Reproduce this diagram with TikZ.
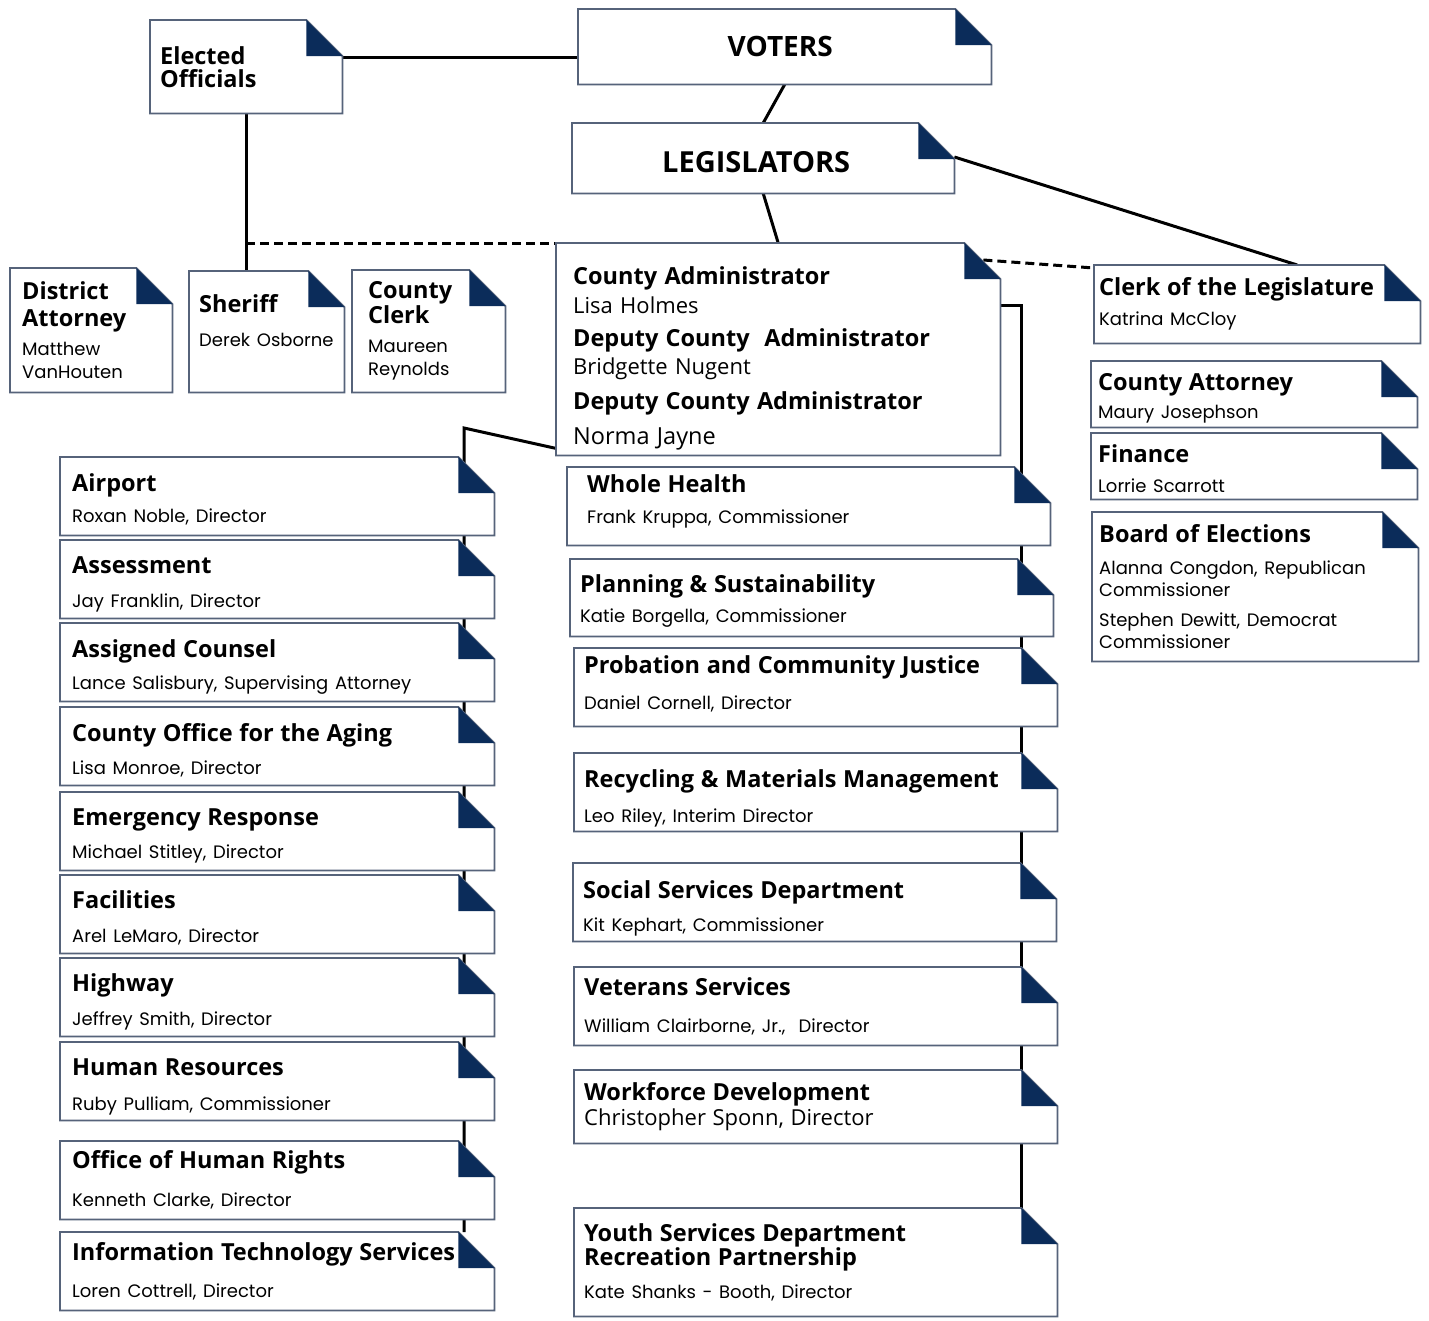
\documentclass[tikz,border=0pt]{standalone}
\usepackage{fontspec}
\setmainfont{Open Sans}
\newfontfamily\namefont{Poppins}
\usetikzlibrary{backgrounds}
\pgfdeclarelayer{cards}
\pgfsetlayers{background,cards,main}
\definecolor{navy}{HTML}{0B2C5A}
\definecolor{frameline}{HTML}{56637A}
\newcommand\hd{\normalfont\bfseries\fontsize{23.5}{24}\selectfont}
\newcommand\nm{\normalfont\namefont\fontsize{18}{22}\selectfont}
\newcommand\rg{\normalfont\fontsize{22}{24}\selectfont}

\begin{document}
\begin{tikzpicture}[x=1pt, y=-1pt]
\tikzset{card/.style={rectangle, anchor=north west, inner ysep=0pt, align=left, font=\fontsize{20}{22}\selectfont},
  lowered/.style={execute at begin node={\rule{0pt}{#1}}},
  leftdept/.style={card, inner xsep=12pt, text width=410pt, minimum width=434pt, minimum height=78pt},
  rightdept/.style={card, inner xsep=10pt, text width=463pt, minimum width=483pt, minimum height=78pt},
  side/.style={card, inner xsep=7pt, text width=312pt, minimum width=326pt},
  link/.style={line width=3pt, black},
  frame/.style={draw=frameline, fill=white, line width=1.8pt},
  fold/.style={fill=navy}}
\useasboundingbox (0,0) rectangle (1429,1320);

% top of the chart
\node[card, inner xsep=10pt, text width=172pt, minimum width=192pt, minimum height=93pt, font=\fontsize{23.5}{23}\selectfont] (elected) at (150,20) {\hd Elected\\Officials};
\node[card, align=center, inner xsep=10pt, text width=393pt, minimum width=413pt, minimum height=75pt] (voters) at (578,9) {\hd\fontsize{28}{30}\selectfont\hspace*{-9pt}VOTERS};
\node[card, lowered=29pt, align=center, inner xsep=10pt, text width=362pt, minimum width=382pt, minimum height=70pt] (legis) at (572,123) {\hd\fontsize{29}{30}\selectfont\hspace*{-14pt}LEGISLATORS};
\node[card, lowered=36pt, inner xsep=17pt, text width=410pt, minimum width=444pt, minimum height=212pt, font=\fontsize{22}{26}\selectfont] (admin) at (556,243) {\hd County Administrator\\[5pt]\rg Lisa Holmes\\[9pt]\hd Deputy County~ Administrator\\[4pt]\rg Bridgette Nugent\\[11pt]\hd Deputy County Administrator\\[9pt]\rg\fontsize{23.5}{26}\selectfont Norma Jayne};

% elected officials
\node[card, inner xsep=12pt, text width=138pt, minimum width=162pt, minimum height=124pt] (da) at (10,268) {\hd District\\[3pt]Attorney\\[7pt]\nm Matthew\\[1pt]VanHouten};
\node[card, inner xsep=10pt, text width=135pt, minimum width=155pt, minimum height=121pt] (sheriff) at (189,271) {\hd Sheriff\\[12pt]\nm Derek Osborne\\\mbox{}};
\node[card, inner xsep=16pt, text width=121pt, minimum width=153pt, minimum height=122pt] (cclerk) at (352,270) {\hd County\\[1pt]Clerk\\[7pt]\nm Maureen\\[1pt]Reynolds};

% reporting to the legislature
\node[side, inner xsep=5pt, text width=316pt, minimum height=78pt] (clerkleg) at (1094,265) {\hd Clerk of the Legislature\\[8pt]\nm Katrina McCloy};
\node[side, lowered=25pt, minimum height=66pt] (cattorney) at (1091,361) {\hd County Attorney\\[6pt]\nm Maury Josephson};
\node[side, lowered=22pt, minimum height=66pt] (finance) at (1091,433) {\hd Finance\\[8pt]\nm Lorrie Scarrott};
\node[side, minimum height=149pt] (elections) at (1092,512) {\hd Board of Elections\\[10pt]\nm Alanna Congdon, Republican\\Commissioner\\[8pt]Stephen Dewitt, Democrat\\Commissioner};

% departments, left
\node[leftdept, lowered=25pt] (airport) at (60,457) {\hd Airport\\[9pt]\nm Roxan Noble, Director};
\node[leftdept, lowered=27pt] (assessment) at (60,540) {\hd Assessment\\[12pt]\nm Jay Franklin, Director};
\node[leftdept, lowered=27pt] (counsel) at (60,623) {\hd Assigned Counsel\\[10pt]\nm Lance Salisbury, Supervising Attorney};
\node[leftdept, lowered=27pt] (aging) at (60,707) {\hd County Office for the Aging\\[11pt]\nm Lisa Monroe, Director};
\node[leftdept, lowered=27pt] (emergency) at (60,792) {\hd Emergency Response\\[11pt]\nm Michael Stitley, Director};
\node[leftdept, lowered=25pt] (facilities) at (60,875) {\hd Facilities\\[12pt]\nm Arel LeMaro, Director};
\node[leftdept, lowered=27pt] (highway) at (60,958) {\hd Highway\\[12pt]\nm Jeffrey Smith, Director};
\node[leftdept, lowered=29pt] (hr) at (60,1042) {\hd Human Resources\\[13pt]\nm Ruby Pulliam, Commissioner};
\node[leftdept] (rights) at (60,1141) {\hd Office of Human Rights\\[16pt]\nm Kenneth Clarke, Director};
\node[leftdept] (its) at (60,1232) {\hd Information Technology Services\\[15pt]\nm Loren Cottrell, Director};

% departments, right
\node[rightdept, inner xsep=19pt, text width=443pt] (health) at (567,467) {\hd Whole Health\\[9pt]\nm Frank Kruppa, Commissioner\\[-8pt]\mbox{}};
\node[rightdept, lowered=25pt, minimum height=77pt] (planning) at (570,559) {\hd Planning \& Sustainability\\[8pt]\nm Katie Borgella, Commissioner};
\node[rightdept] (probation) at (574,648) {\hd Probation and Community Justice\\[14pt]\nm Daniel Cornell, Director\\[-13pt]\mbox{}};
\node[rightdept, lowered=30pt] (recycling) at (574,753) {\hd Recycling \& Materials Management\\[13pt]\nm Leo Riley, Interim Director};
\node[rightdept, lowered=30pt] (social) at (573,863) {\hd Social Services Department\\[11pt]\nm Kit Kephart, Commissioner};
\node[rightdept] (veterans) at (574,967) {\hd Veterans Services\\[15pt]\nm William Clairborne, Jr.,~ Director};
\node[rightdept, minimum height=73pt, font=\fontsize{20}{24}\selectfont] (workforce) at (574,1070) {\hd Workforce Development\\[1pt]\rg Christopher Sponn, Director};
\node[rightdept, minimum height=108pt, font=\fontsize{20}{24}\selectfont] (youth) at (574,1208) {\hd Youth Services Department\\Recreation Partnership\\[9pt]\nm Kate Shanks - Booth, Director};

% folded corners
\begin{pgfonlayer}{cards}
\foreach \n in {elected, voters, legis, admin, da, sheriff, cclerk, clerkleg, cattorney, finance, elections,
  airport, assessment, counsel, aging, emergency, facilities, highway, hr, rights, its,
  health, planning, probation, recycling, social, veterans, workforce, youth} {
  \draw[frame] (\n.south west) -- (\n.north west) -- ([xshift=-36pt]\n.north east) -- ([yshift=-36pt]\n.north east) -- (\n.south east) -- cycle;
  \fill[fold] ([xshift=-36pt]\n.north east) -- ([yshift=-36pt]\n.north east) -- ([xshift=-36pt,yshift=-36pt]\n.north east) -- cycle;
}
\end{pgfonlayer}

% connectors
\coordinate (eo) at ([yshift=-37pt]elected.north east);
\coordinate (lbend) at (464,428);
\coordinate (rbend) at (1021,305);
\begin{pgfonlayer}{background}
\draw[link] (eo) -- (eo -| voters.west);
\draw[link] (voters.south) -- (legis.north);
\draw[link] (legis.south) -- (admin.north);
\draw[link] ([yshift=-34pt]legis.north east) -- ([xshift=40pt]clerkleg.north);
\draw[link] (elected.south) -- (elected.south |- sheriff.north);
\draw[link, dash pattern=on 9pt off 5pt] (elected.south |- admin.north west) -- (admin.north west);
\draw[link, dash pattern=on 9pt off 5pt] ([shift={(-17pt,-17pt)}]admin.north east) -- ([yshift=-3pt]clerkleg.north west);
\draw[link] ([yshift=7pt]admin.south west) -- (lbend) -- (lbend |- its.north);
\draw[link] ([yshift=-62pt]admin.north east) -- (rbend) -- (rbend |- youth.north);
\end{pgfonlayer}
\end{tikzpicture}
\end{document}
